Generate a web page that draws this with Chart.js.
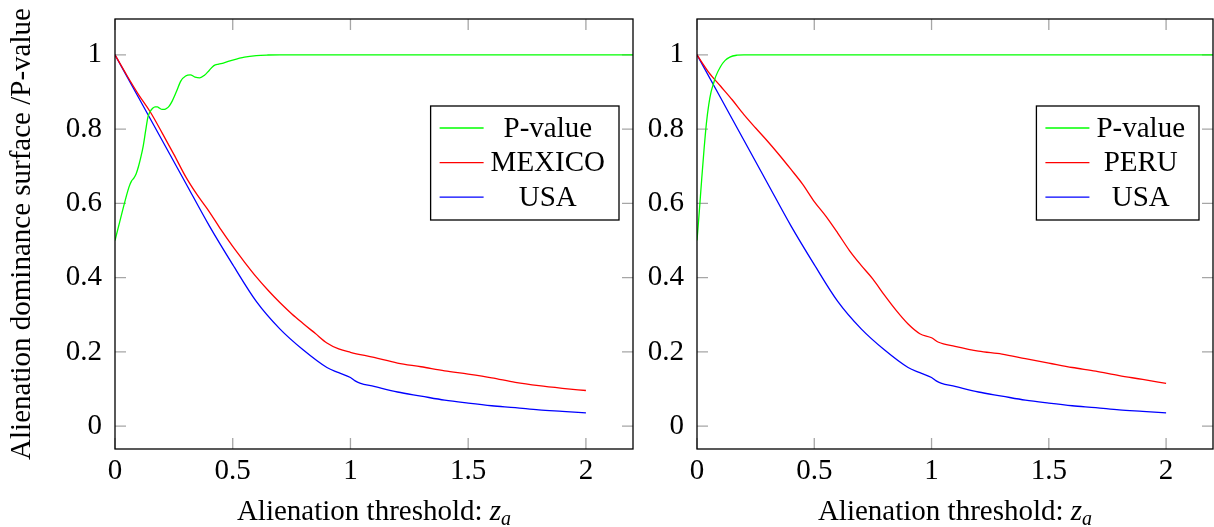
<!DOCTYPE html>
<html><head><meta charset="utf-8">
<script src="https://cdn.jsdelivr.net/npm/chart.js@4.4.0/dist/chart.umd.min.js"></script>
<style>
html,body{margin:0;padding:0;background:#fff;}
#wrap{position:relative;width:1214px;height:527px;overflow:hidden;background:#fff;}
#cA{position:absolute;left:0;top:0;}
#cB{position:absolute;left:636px;top:0;}
</style></head><body>
<div id="wrap"><canvas id="cA" width="636" height="527"></canvas><canvas id="cB" width="578" height="527"></canvas></div>
<script>
// ---------- data ----------
const xTickValues = [0, 0.5, 1, 1.5, 2];
const xTickLabels = ["0", "0.5", "1", "1.5", "2"];
const yTickValues = [0, 0.2, 0.4, 0.6, 0.8, 1];
const yTickLabels = ["0", "0.2", "0.4", "0.6", "0.8", "1"];

const pvalMexX = [0,0.02,0.04,0.06,0.07,0.08,0.09,0.10,0.11,0.12,0.13,0.14,0.15,0.16,0.17,0.18,0.19,0.20,0.21,0.22,0.23,0.24,0.26,0.28,0.30,0.32,0.34,0.36,0.38,0.40,0.42,0.44,0.46,0.50,0.55,0.60,0.65,0.70,1.0,1.5,2.0,2.2];
const pvalMexY = [0.5,0.55,0.60,0.645,0.66,0.668,0.68,0.70,0.725,0.755,0.795,0.833,0.848,0.856,0.86,0.86,0.856,0.853,0.853,0.856,0.862,0.872,0.9,0.93,0.943,0.946,0.94,0.938,0.945,0.958,0.971,0.975,0.978,0.986,0.994,0.998,0.9995,1,1,1,1,1];

const mexX = [0,0.05,0.1,0.15,0.2,0.25,0.3,0.35,0.4,0.45,0.5,0.55,0.6,0.65,0.7,0.75,0.8,0.85,0.9,0.95,1.0,1.1,1.2,1.3,1.4,1.5,1.6,1.7,1.8,1.9,2.0];
const mexY = [1,0.945,0.893,0.846,0.79,0.732,0.672,0.622,0.578,0.529,0.484,0.442,0.402,0.366,0.333,0.303,0.276,0.25,0.224,0.208,0.199,0.185,0.17,0.16,0.149,0.14,0.13,0.118,0.109,0.102,0.096];

const usaX = [0,0.1,0.2,0.3,0.4,0.5,0.6,0.7,0.8,0.9,0.95,1.0,1.02,1.04,1.1,1.2,1.3,1.4,1.5,1.6,1.7,1.8,1.9,2.0];
const usaY = [1,0.885,0.77,0.655,0.54,0.435,0.336,0.262,0.205,0.158,0.144,0.131,0.122,0.116,0.107,0.092,0.081,0.07,0.062,0.055,0.05,0.044,0.04,0.036];

const pvalPeruX = [0,0.01,0.02,0.03,0.04,0.05,0.06,0.07,0.08,0.10,0.12,0.14,0.17,0.2,1,2,2.2];
const pvalPeruY = [0.5,0.58,0.665,0.745,0.815,0.865,0.9,0.922,0.942,0.968,0.985,0.994,0.999,1,1,1,1];

const peruX = [0,0.05,0.1,0.15,0.2,0.25,0.3,0.35,0.4,0.45,0.5,0.55,0.6,0.65,0.7,0.75,0.8,0.85,0.9,0.95,1.0,1.03,1.1,1.2,1.3,1.4,1.5,1.6,1.7,1.8,1.9,2.0];
const peruY = [1,0.953,0.916,0.879,0.839,0.803,0.768,0.731,0.692,0.652,0.605,0.565,0.52,0.473,0.433,0.396,0.352,0.311,0.275,0.249,0.238,0.226,0.215,0.202,0.194,0.182,0.17,0.158,0.148,0.136,0.126,0.115];

// ---------- helpers ----------
const FONT = "'Liberation Serif', 'Times New Roman', serif";
const FS = 29;
const pts = (xs, ys) => xs.map((v, i) => ({x: v, y: ys[i]}));
const ds = (label, xs, ys, color) => ({
  label, data: pts(xs, ys), borderColor: color, backgroundColor: color,
  borderWidth: 1.3, pointRadius: 0, cubicInterpolationMode: 'monotone', fill: false
});

const frameTicks = {
  id: 'frameTicks',
  beforeDatasetsDraw(chart) {
    const {ctx, chartArea: a, scales: {x, y}} = chart;
    ctx.save();
    ctx.strokeStyle = '#a6a6a6'; ctx.lineWidth = 1.3;
    ctx.beginPath();
    x.ticks.forEach(t => {
      const p = x.getPixelForValue(t.value);
      ctx.moveTo(p, a.bottom); ctx.lineTo(p, a.bottom - 11);
      ctx.moveTo(p, a.top); ctx.lineTo(p, a.top + 11);
    });
    y.ticks.forEach(t => {
      const p = y.getPixelForValue(t.value);
      ctx.moveTo(a.left, p); ctx.lineTo(a.left + 11, p);
      ctx.moveTo(a.right, p); ctx.lineTo(a.right - 11, p);
    });
    ctx.stroke();
    ctx.restore();
  },
  afterDraw(chart) {
    const {ctx, chartArea: a} = chart;
    ctx.save();
    ctx.strokeStyle = '#000'; ctx.lineWidth = 1.3;
    ctx.strokeRect(a.left, a.top, a.right - a.left, a.bottom - a.top);
    // x axis title with italic z and subscript a
    const base = 'Alienation threshold: ';
    ctx.fillStyle = '#000';
    ctx.textBaseline = 'alphabetic';
    ctx.font = FS + "px " + FONT;
    const w1 = ctx.measureText(base).width;
    ctx.font = "italic " + FS + "px " + FONT;
    const w2 = ctx.measureText('z').width;
    ctx.font = "italic 20px " + FONT;
    const w3 = ctx.measureText('a').width;
    const total = w1 + w2 + w3;
    let sx = (a.left + a.right) / 2 - total / 2;
    const by = 520;
    ctx.textAlign = 'left';
    ctx.font = FS + "px " + FONT; ctx.fillText(base, sx, by); sx += w1;
    ctx.font = "italic " + FS + "px " + FONT; ctx.fillText('z', sx, by); sx += w2;
    ctx.font = "italic 20px " + FONT; ctx.fillText('a', sx, by + 4.5);
    // legend box
    ctx.font = FS + "px " + FONT;
    const dsets = chart.data.datasets;
    const maxW = Math.max(...dsets.map(d => ctx.measureText(d.label).width));
    const bw = maxW + 74, bh = 114;
    const bx = a.right - 14 - bw, byTop = a.top + 87;
    ctx.fillStyle = '#fff';
    ctx.fillRect(bx, byTop, bw, bh);
    ctx.strokeStyle = '#000'; ctx.lineWidth = 1.3;
    ctx.strokeRect(bx, byTop, bw, bh);
    dsets.forEach((d, i) => {
      const ry = byTop + 22 + 34.6 * i;
      ctx.strokeStyle = d.borderColor; ctx.lineWidth = 1.3;
      ctx.beginPath(); ctx.moveTo(bx + 9, ry); ctx.lineTo(bx + 53, ry); ctx.stroke();
      ctx.fillStyle = '#000'; ctx.textAlign = 'center'; ctx.textBaseline = 'middle';
      ctx.fillText(d.label, bx + 60 + maxW / 2, ry + 1);
    });
    ctx.restore();
  }
};

function makeChart(canvas, datasets, yWidth, padRight, yTitle) {
  return new Chart(canvas, {
    type: 'line',
    data: {datasets},
    options: {
      responsive: false, animation: false, devicePixelRatio: 1,
      layout: {padding: {left: 0, right: padRight, top: 19, bottom: 0}},
      plugins: {legend: {display: false}, tooltip: {enabled: false}},
      scales: {
        x: {
          type: 'linear', min: 0, max: 2.2,
          grid: {display: false, drawTicks: false}, border: {display: false},
          afterBuildTicks: s => { s.ticks = xTickValues.map(v => ({value: v})); },
          ticks: {color: '#000', font: {family: FONT, size: FS}, padding: 5, maxRotation: 0,
                  autoSkip: false, callback: (v) => xTickLabels[xTickValues.indexOf(v)]},
          afterFit: s => { s.height = 78; s.paddingLeft = 0; s.paddingRight = 0; s.paddingTop = 0; s.paddingBottom = 0; }
        },
        y: {
          type: 'linear', min: -0.0615, max: 1.0965,
          grid: {display: false, drawTicks: false}, border: {display: false},
          afterBuildTicks: s => { s.ticks = yTickValues.map(v => ({value: v})); },
          ticks: {color: '#000', font: {family: FONT, size: FS}, padding: 13, autoSkip: false,
                  callback: (v) => yTickLabels[yTickValues.indexOf(v)]},
          title: {display: !!yTitle, text: yTitle || '', color: '#000',
                  font: {family: FONT, size: FS, lineHeight: 1.2}, padding: {top: 5, bottom: 0}},
          afterFit: s => { s.width = yWidth; s.paddingLeft = 0; s.paddingRight = 0; s.paddingTop = 0; s.paddingBottom = 0; }
        }
      }
    },
    plugins: [frameTicks]
  });
}

makeChart(document.getElementById('cA'), [
  ds('P-value', pvalMexX, pvalMexY, '#00ff00'),
  ds('MEXICO', mexX, mexY, '#ff0000'),
  ds('USA', usaX, usaY, '#0000ff')
], 115, 3, 'Alienation dominance surface /P-value');

makeChart(document.getElementById('cB'), [
  ds('P-value', pvalPeruX, pvalPeruY, '#00ff00'),
  ds('PERU', peruX, peruY, '#ff0000'),
  ds('USA', usaX, usaY, '#0000ff')
], 61, 1, null);
</script>
</body></html>
